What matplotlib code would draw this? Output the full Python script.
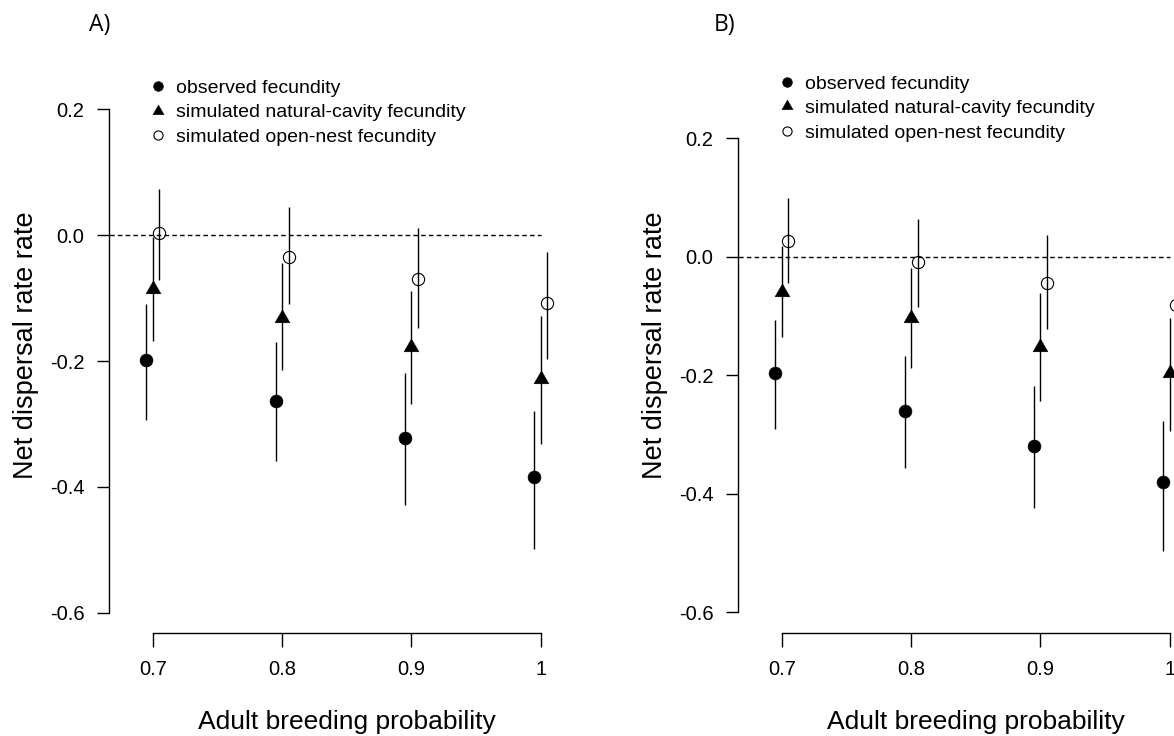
import numpy as np
import matplotlib
matplotlib.use("Agg")
import matplotlib.pyplot as plt
from matplotlib.path import Path

plt.rcParams['font.family'] = ['Liberation Sans', 'DejaVu Sans']

# Data (estimate, lower and upper CI per breeding probability)
breeding_prob = [0.7, 0.8, 0.9, 1.0]
x_tick_labels = ["0.7", "0.8", "0.9", "1"]
y_ticks = [-0.6, -0.4, -0.2, 0.0, 0.2]
y_tick_labels = ["-0.6", "-0.4", "-0.2", "0.0", "0.2"]
series_labels = ["observed fecundity",
                 "simulated natural-cavity fecundity",
                 "simulated open-nest fecundity"]

# Panel A
a_obs = [-0.199, -0.263, -0.322, -0.384]
a_obs_lo = [-0.294, -0.359, -0.428, -0.499]
a_obs_hi = [-0.109, -0.170, -0.219, -0.279]
a_nat = [-0.085, -0.131, -0.177, -0.229]
a_nat_lo = [-0.168, -0.215, -0.268, -0.331]
a_nat_hi = [-0.003, -0.045, -0.089, -0.129]
a_open = [0.004, -0.035, -0.069, -0.108]
a_open_lo = [-0.071, -0.110, -0.147, -0.197]
a_open_hi = [0.074, 0.044, 0.011, -0.027]

# Panel B
b_obs = [-0.197, -0.260, -0.320, -0.380]
b_obs_lo = [-0.290, -0.357, -0.424, -0.496]
b_obs_hi = [-0.106, -0.168, -0.218, -0.277]
b_nat = [-0.059, -0.103, -0.152, -0.197]
b_nat_lo = [-0.135, -0.187, -0.244, -0.294]
b_nat_hi = [0.018, -0.019, -0.061, -0.103]
b_open = [0.027, -0.009, -0.045, -0.081]
b_open_lo = [-0.045, -0.085, -0.122, -0.160]
b_open_hi = [0.099, 0.064, 0.036, 0.000]

W, H = 1174, 736

# R-style filled triangle (pch 17), centred on its centroid
tri = Path([(-1.347, -0.778), (1.347, -0.778), (0.0, 1.555), (-1.347, -0.778)],
           [Path.MOVETO, Path.LINETO, Path.LINETO, Path.CLOSEPOLY])

styles = [
    dict(marker='o', ms=9.2, mfc='black', mec='black', mew=0.5),
    dict(marker=tri, ms=12.5, mfc='black', mec='black', mew=0.3),
    dict(marker='o', ms=8.8, mfc='none', mec='black', mew=0.8),
]
dodge = [-0.005, 0.0, 0.005]


def draw_panel(ax, series, ylim, letter, letter_xy, leg_anchor):
    x = np.array(breeding_prob)
    handles = []
    for (est, lo, hi), dx, st, lab in zip(series, dodge, styles, series_labels):
        ax.vlines(x + dx, lo, hi, color='black', lw=1.0)
        h, = ax.plot(x + dx, est, linestyle='none', label=lab, **st)
        handles.append(h)
    ax.plot([0.6, 1.0], [0, 0], color='black', lw=1.0, linestyle=(0, (3.3, 2.3)))

    ax.set_xlim(0.666, 1.0336)
    ax.set_ylim(*ylim)
    for s in ['top', 'right']:
        ax.spines[s].set_visible(False)
    ax.spines['left'].set_bounds(-0.6, 0.2)
    ax.spines['bottom'].set_bounds(0.7, 1.0)
    ax.spines['left'].set_linewidth(1.0)
    ax.spines['bottom'].set_linewidth(1.0)

    ax.set_xticks(breeding_prob)
    ax.set_xticklabels(x_tick_labels)
    ax.set_yticks(y_ticks)
    ax.set_yticklabels(y_tick_labels)
    ax.tick_params(axis='y', direction='out', length=8.3, width=1.0, labelsize=14.5, pad=9.5)
    ax.tick_params(axis='x', direction='out', length=10, width=1.0, labelsize=14.5, pad=9.5)

    ax.set_xlabel("Adult breeding probability", fontsize=19, labelpad=22.5)
    ax.set_ylabel("Net dispersal rate rate", fontsize=19.5, labelpad=8)

    ax.legend(handles=handles, loc='upper left', bbox_to_anchor=leg_anchor,
              bbox_transform=ax.transData, frameon=False, fontsize=14,
              handlelength=1.0, handletextpad=0.45, labelspacing=0.35,
              borderpad=0, borderaxespad=0, markerscale=0.75, numpoints=1)

    fig.text(letter_xy[0] / W, 1 - letter_xy[1] / H, letter, fontsize=16.5,
             family=['Open Sans', 'DejaVu Sans'], ha='center', va='center')


fig = plt.figure(figsize=(W / 100, H / 100), dpi=100)

ax_a = fig.add_axes([109 / W, 1 - 633 / H, 475 / W, (633 - 57) / H])
ax_b = fig.add_axes([738 / W, 1 - 633 / H, 475 / W, (633 - 57) / H])

draw_panel(ax_a,
           [(a_obs, a_obs_lo, a_obs_hi), (a_nat, a_nat_lo, a_nat_hi), (a_open, a_open_lo, a_open_hi)],
           (-0.632, 0.283), "A)", (99.5, 25), (0.6964, 0.2476))
draw_panel(ax_b,
           [(b_obs, b_obs_lo, b_obs_hi), (b_nat, b_nat_lo, b_nat_hi), (b_open, b_open_lo, b_open_hi)],
           (-0.635, 0.337), "B)", (725, 25), (0.6964, 0.3062))

fig.savefig("out.png", dpi=100)
